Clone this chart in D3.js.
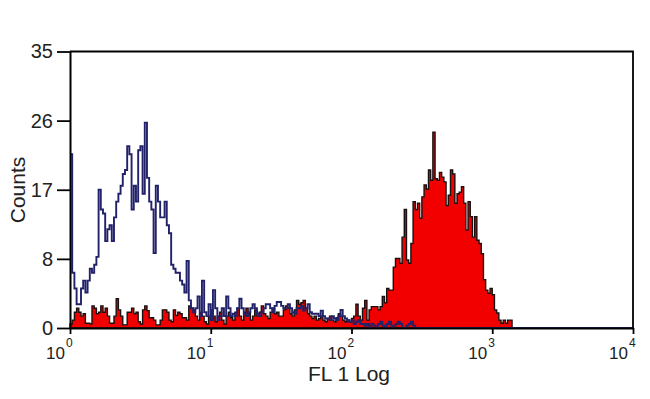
<!DOCTYPE html>
<html>
<head>
<meta charset="utf-8">
<script src="https://cdn.jsdelivr.net/npm/d3@7"></script>
<style>
    html, body { margin: 0; padding: 0; background: #fff; }
    svg { display: block; font-family: "Liberation Sans", Arial, sans-serif; }
</style>
</head>
<body>
<svg id="histSvg"></svg>
<script>
// 256 channels over 4 log decades, counts per channel
let controlCounts = [
    22, 7, 5, 3, 3, 5, 6, 4.5, 6, 7.5, 7, 8, 9, 17.5, 15, 14.5,
    11, 12.5, 13, 11, 14, 16, 17, 18, 19.5, 20, 23, 22, 15, 18, 16, 22.5,
    23, 17, 26, 19, 16, 15, 9.5, 18, 16, 14, 14, 16, 13, 12, 8, 7.5,
    7, 7, 6, 5.5, 4.5, 8.5, 3.5, 2.5, 2, 2.5, 4, 1.5, 6, 2, 1.5, 3,
    1, 4.8, 2.5, 1, 1.5, 2.5, 1.5, 4, 2.5, 1.5, 1.8, 1.5, 2.5, 3.7, 2.5, 1.8,
    1.5, 2, 2.5, 3, 2.5, 1.8, 1.5, 2, 2.5, 3, 3, 2.5, 2, 2.8, 3.3, 3.3,
    2.8, 2.5, 2.5, 3, 2.5, 2, 1.8, 2.5, 2.5, 2.8, 2.2, 2.5, 3, 2, 1.8, 1.8,
    1.8, 1.5, 2.2, 1.5, 1.2, 1.2, 1, 1.5, 1.2, 1, 1.5, 2.3, 1.5, 1.2, 1, 0.8,
    1, 0.5, 0.8, 1, 0.5, 0.5, 0.3, 0.5, 0, 0.5, 0.3, 0, 0.5, 0.8, 0.3, 0,
    0.5, 0.8, 0.3, 0, 0.5, 0.8, 0.5, 0, 0, 0.3, 0.5, 0.8, 0.3, 0, 0, 0,
    0, 0, 0, 0, 0, 0, 0, 0, 0, 0, 0, 0, 0, 0, 0, 0,
    0, 0, 0, 0, 0, 0, 0, 0, 0, 0, 0, 0, 0, 0, 0, 0,
    0, 0, 0, 0, 0, 0, 0, 0, 0, 0, 0, 0, 0, 0, 0, 0,
    0, 0, 0, 0, 0, 0, 0, 0, 0, 0, 0, 0, 0, 0, 0, 0,
    0, 0, 0, 0, 0, 0, 0, 0, 0, 0, 0, 0, 0, 0, 0, 0,
    0, 0, 0, 0, 0, 0, 0, 0, 0, 0, 0, 0, 0, 0, 0, 0
];

let stainedCounts = [
    0.5, 1, 2, 2.5, 2, 1.5, 1.8, 0.6, 0.6, 0.5, 2.8, 2.5, 1.8, 2, 2.8, 2,
    2.5, 1.5, 0.6, 0.6, 1.5, 3.7, 2.3, 1.5, 0.4, 0.4, 2, 2, 2.5, 1.8, 2, 0.8,
    0.5, 2.3, 2.8, 2.2, 1.3, 1.3, 1, 0.4, 0.4, 1, 2.3, 2.3, 2, 1, 0.8, 2.3,
    1.6, 2, 1.8, 1.3, 1.3, 1, 2.8, 2.5, 2.3, 1.5, 1, 2, 1.5, 0.8, 0.5, 1.5,
    2.3, 1.5, 0.8, 1.5, 2, 1, 0.5, 1.5, 2, 1.3, 1, 2, 2.5, 1.5, 1, 2,
    2.5, 1.8, 1, 1.5, 2.3, 1.5, 2, 2.8, 1.8, 1.5, 1.2, 2, 2.5, 1.8, 2, 1.5,
    1.5, 2.3, 2.8, 2.5, 1.8, 1.5, 2.3, 3.5, 3, 3.2, 3.5, 2.5, 1.8, 1.5, 1.2, 1.5,
    1, 1.2, 1.5, 1, 0.8, 1.2, 1.5, 1, 0.8, 1.3, 1.8, 1.5, 1, 0.8, 1, 0.8,
    1.2, 1.5, 3, 1.5, 1, 2.5, 3.5, 1, 2.3, 2.7, 2.7, 2.7, 2.3, 2.7, 4, 3.2,
    5, 4.8, 4.8, 7.7, 8.8, 8.8, 8.2, 11.5, 15, 8.6, 8.2, 10.7, 16, 15, 15.8, 13.9,
    16.6, 18.1, 17.6, 20, 18.7, 24.8, 18.9, 18.7, 19.7, 19.1, 18.5, 15.5, 16.8, 20, 19.5, 15.8,
    17, 17.2, 17.9, 15.8, 12.4, 16, 14.1, 11.5, 14.1, 11.1, 10.7, 9.4, 6.1, 4.8, 4.4, 5,
    4.2, 2.3, 1.9, 1, 0.6, 1, 0.6, 1, 1, 0, 0, 0, 0, 0, 0, 0,
    0, 0, 0, 0, 0, 0, 0, 0, 0, 0, 0, 0, 0, 0, 0, 0,
    0, 0, 0, 0, 0, 0, 0, 0, 0, 0, 0, 0, 0, 0, 0, 0,
    0, 0, 0, 0, 0, 0, 0, 0, 0, 0, 0, 0, 0, 0, 0, 0
];

let yTickValues = [0, 8.75, 17.5, 26.25, 35];
let yTickLabels = ["0", "8", "17", "26", "35"];
let xTickValues = [1, 10, 100, 1000, 10000];
let xTickExponents = ["0", "1", "2", "3", "4"];

window.onload = () =>
{
    let d3 = window.d3;

    let width = 650;
    let height = 399;
    let margin = {top: 51.5, right: 17, bottom: 71, left: 70};

    let svg = d3.select("#histSvg").attr("width", width).attr("height", height);

    let xScale = d3.scaleLog([1, 10000], [margin.left, width - margin.right]);
    let yScale = d3.scaleLinear([0, 35], [height - margin.bottom, margin.top]);

    let channels = controlCounts.length;
    let decades = 4;
    // lower edge of each channel in FL1 units
    let edge = i => Math.pow(10, decades * i / channels);

    function toPoints(counts)
    {
        let pts = counts.map((c, i) => [edge(i), c]);
        pts.push([edge(channels), counts[channels - 1]]);
        return pts;
    }

    let area = d3.area()
        .curve(d3.curveStepAfter)
        .x(d => xScale(d[0]))
        .y0(yScale(0))
        .y1(d => yScale(d[1]));

    let line = d3.line()
        .curve(d3.curveStepAfter)
        .x(d => xScale(d[0]))
        .y(d => yScale(d[1]));

    // stained sample: red filled histogram
    svg.append("path")
        .datum(toPoints(stainedCounts))
        .attr("fill", "#f20000")
        .attr("stroke", "#1a1010")
        .attr("stroke-width", 1.4)
        .attr("d", area);

    // control: open blue histogram
    svg.append("path")
        .datum(toPoints(controlCounts))
        .attr("fill", "none")
        .attr("stroke", "#22226a")
        .attr("stroke-width", 1.9)
        .attr("d", line);

    // frame
    svg.append("path")
        .attr("fill", "none")
        .attr("stroke", "#000")
        .attr("stroke-width", 1.8)
        .attr("d", `M${xScale(1)},${yScale(35)}H${xScale(10000)}V${yScale(0)}`);

    let yAxis = svg.append("g")
        .attr("transform", `translate(${margin.left},0)`)
        .call(d3.axisLeft(yScale)
            .tickValues(yTickValues)
            .tickFormat((d, i) => yTickLabels[i])
            .tickSize(13)
            .tickPadding(4)
            .tickSizeOuter(0));
    yAxis.select(".domain").attr("stroke-width", 2);
    yAxis.selectAll(".tick line").attr("stroke-width", 1.8);
    yAxis.selectAll("text")
        .style("font-family", "Liberation Sans, Arial, sans-serif")
        .style("font-size", "20px")
        .attr("fill", "#222");

    let xAxis = svg.append("g")
        .attr("transform", `translate(0,${yScale(0)})`)
        .call(d3.axisBottom(xScale)
            .tickValues(xTickValues)
            .tickFormat("")
            .tickSize(6)
            .tickSizeOuter(0));
    xAxis.select(".domain").attr("stroke-width", 2);
    xAxis.selectAll(".tick line").attr("stroke-width", 1.8);

    let xLabels = svg.append("g")
        .style("font-family", "Liberation Sans, Arial, sans-serif")
        .attr("fill", "#222")
        .selectAll("g")
        .data(xTickValues)
        .join("g")
        .attr("transform", d => `translate(${xScale(d)},0)`);

    xLabels.append("text")
        .attr("text-anchor", "end")
        .attr("x", -5)
        .attr("y", 359)
        .style("font-size", "17px")
        .text("10");

    xLabels.append("text")
        .attr("x", -4)
        .attr("y", 347)
        .style("font-size", "12px")
        .text((d, i) => xTickExponents[i]);

    svg.append("text")
        .attr("text-anchor", "middle")
        .attr("x", 349)
        .attr("y", 381)
        .style("font-size", "21px")
        .attr("fill", "#222")
        .text("FL 1 Log");

    svg.append("text")
        .attr("text-anchor", "middle")
        .attr("transform", "translate(25,190) rotate(-90)")
        .style("font-size", "21px")
        .attr("fill", "#222")
        .text("Counts");
};
</script>
</body>
</html>
